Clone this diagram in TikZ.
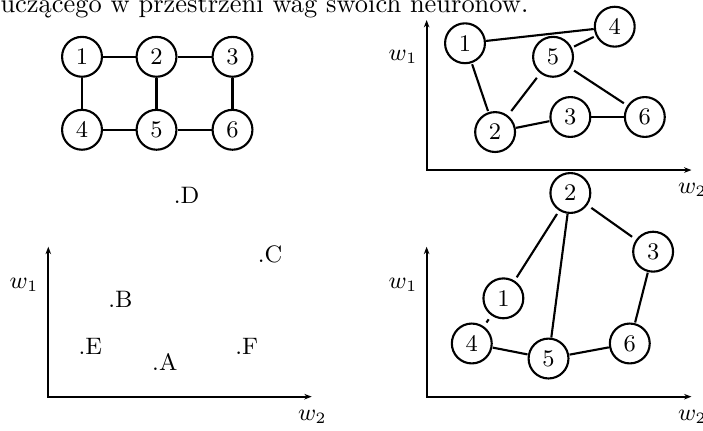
\documentclass[tikz,border=0pt]{standalone}
\usepackage{fontspec}
\usepackage{amsmath}
\usepackage{tikz}
\usetikzlibrary{arrows.meta,positioning}
\tikzset{
    neuron/.style={rectangle, draw, thick, minimum size=5.3mm, rounded corners=2.65mm, inner sep=0pt, font=\small},
    link/.style={draw, thick},
    axisline/.style={draw, thick, {Stealth[length=2.8pt]}-{Stealth[length=2.8pt]}},
    sample/.style={inner sep=0pt, font=\small},
    axislabel/.style={inner sep=0pt, font=\small}
}
\begin{document}
\begin{tikzpicture}
    \useasboundingbox (0,0) rectangle (9.343,5.715);
    \node[anchor=base west, inner sep=0pt] (caption) at (0,5.551) {uczącego w przestrzeni wag swoich neuronów.};

    % Siatka neuronow
    \node[neuron] (g1) at (1.09,4.96) {1};
    \node[neuron] (g2) at (2.08,4.96) {2};
    \node[neuron] (g3) at (3.09,4.96) {3};
    \node[neuron] (g4) at (1.09,3.99) {4};
    \node[neuron] (g5) at (2.08,3.99) {5};
    \node[neuron] (g6) at (3.09,3.99) {6};
    \draw[link] (g1) -- (g2);
    \draw[link] (g2) -- (g3);
    \draw[link] (g4) -- (g5);
    \draw[link] (g5) -- (g6);
    \draw[link] (g1) -- (g4);
    \draw[link] (g2) -- (g5);
    \draw[link] (g3) -- (g6);

    % Uklad przed uczeniem
    \coordinate (ya) at (5.67,5.449);
    \coordinate (oa) at (5.67,3.455);
    \coordinate (xa) at (9.19,3.455);
    \draw[axisline] (ya) -- (oa) -- (xa);
    \node[axislabel] (w1a) at (5.356,4.961) {$w_1$};
    \node[axislabel] (w2a) at (9.203,3.19) {$w_2$};
    \node[neuron] (u1) at (6.18,5.14) {1};
    \node[neuron] (u2) at (6.58,3.96) {2};
    \node[neuron] (u3) at (7.58,4.16) {3};
    \node[neuron] (u4) at (8.17,5.36) {4};
    \node[neuron] (u5) at (7.35,4.96) {5};
    \node[neuron] (u6) at (8.57,4.16) {6};
    \draw[link] (u1) -- (u4);
    \draw[link] (u1) -- (u2);
    \draw[link] (u2) -- (u5);
    \draw[link] (u2) -- (u3);
    \draw[link] (u3) -- (u6);
    \draw[link] (u5) -- (u6);
    \draw[link] (u5) -- (u4);

    % Dane uczace
    \coordinate (yc) at (0.642,2.436);
    \coordinate (oc) at (0.642,0.443);
    \coordinate (xc) at (4.143,0.443);
    \draw[axisline] (yc) -- (oc) -- (xc);
    \node[axislabel] (w1c) at (0.319,1.927) {$w_1$};
    \node[axislabel] (w2c) at (4.153,0.177) {$w_2$};
    \node[sample] (D) at (2.48,3.12) {.D};
    \node[sample] (C) at (3.59,2.33) {.C};
    \node[sample] (B) at (1.60,1.73) {.B};
    \node[sample] (E) at (1.20,1.11) {.E};
    \node[sample] (F) at (3.28,1.11) {.F};
    \node[sample] (A) at (2.19,0.91) {.A};

    % Uklad po uczeniu
    \coordinate (yb) at (5.67,2.436);
    \coordinate (ob) at (5.67,0.443);
    \coordinate (xb) at (9.19,0.443);
    \draw[axisline] (yb) -- (ob) -- (xb);
    \node[axislabel] (w1b) at (5.356,1.927) {$w_1$};
    \node[axislabel] (w2b) at (9.203,0.177) {$w_2$};
    \node[neuron] (k1) at (6.69,1.75) {1};
    \node[neuron] (k2) at (7.58,3.15) {2};
    \node[neuron] (k3) at (8.68,2.37) {3};
    \node[neuron] (k4) at (6.27,1.15) {4};
    \node[neuron] (k5) at (7.29,0.95) {5};
    \node[neuron] (k6) at (8.37,1.15) {6};
    \draw[link] (k2) -- (k1);
    \draw[link] (k2) -- (k5);
    \draw[link] (k2) -- (k3);
    \draw[link] (k3) -- (k6);
    \draw[link] (k6) -- (k5);
    \draw[link] (k5) -- (k4);
    \draw[link] (k4) -- (k1);
\end{tikzpicture}
\end{document}
